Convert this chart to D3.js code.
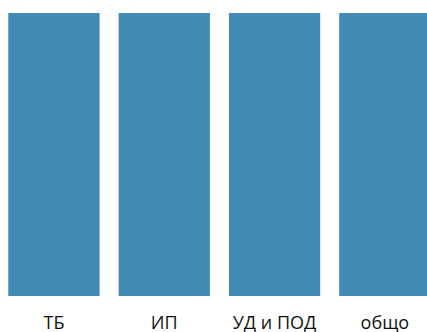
<!DOCTYPE html>
<html>
<head>
<meta charset="utf-8">
<script src="https://cdn.jsdelivr.net/npm/d3@7"></script>
<style>
  html, body { margin: 0; padding: 0; background: #fff; }
  svg { display: block; }
</style>
</head>
<body>
<div id="chart"></div>
<script>
var categories = ["ТБ", "ИП", "УД и ПОД", "общо"];
var values = [100, 100, 100, 100];

var width = 427, height = 332;
var margin = {top: 13, bottom: 36};

var x = d3.scaleBand()
  .domain(categories)
  .range([-1.2, 440])
  .paddingInner(0.172)
  .paddingOuter(0.086);

var y = d3.scaleLinear()
  .domain([0, d3.max(values)])
  .range([height - margin.bottom, margin.top]);

var svg = d3.select("#chart").append("svg")
  .attr("width", width)
  .attr("height", height);

svg.selectAll(".bar")
  .data(values)
  .enter().append("rect")
  .attr("class", "bar")
  .attr("x", function(d, i) { return x(categories[i]); })
  .attr("width", x.bandwidth())
  .attr("y", function(d) { return y(d); })
  .attr("height", function(d) { return y(0) - y(d); })
  .attr("fill", "#428bb4");

// category labels under bars
var xAxis = d3.axisBottom(x).tickSize(0).tickPadding(0);
var g = svg.append("g")
  .attr("transform", "translate(0," + (height - margin.bottom) + ")")
  .call(xAxis);
g.select(".domain").remove();
g.selectAll("text")
  .attr("y", 33)
  .attr("dy", 0)
  .style("font-family", "'Open Sans', sans-serif")
  .style("font-size", "18px")
  .style("fill", "#111");
</script>
</body>
</html>
